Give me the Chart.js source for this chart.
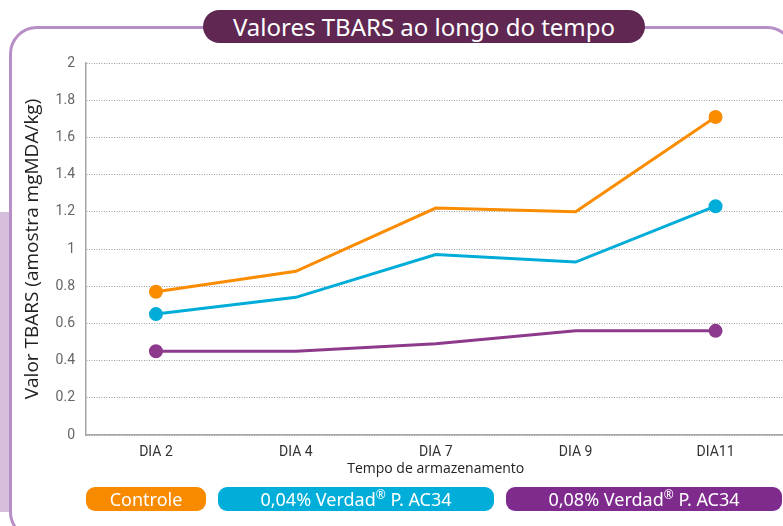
<!DOCTYPE html>
<html>
<head>
<meta charset="utf-8">
<script src="https://cdn.jsdelivr.net/npm/chart.js@4"></script>
<style>
  html, body { margin: 0; padding: 0; background: #fff; }
  body { width: 783px; height: 526px; position: relative; overflow: hidden; font-family: "Noto Sans", sans-serif; }
  .strip { position: absolute; left: 0; top: 212px; width: 9px; height: 300px; background: #d5bfdd; }
  .frame { position: absolute; left: 9px; top: 26px; width: 786px; height: 514px; border: 3px solid #b78fc6; border-radius: 28px; box-sizing: border-box; }
  .title { position: absolute; left: 203px; top: 10px; width: 442px; height: 33px; border-radius: 17px; background: #5f2752; color: #fff; font-size: 24px; line-height: 33px; text-align: center; }
  .chart { position: absolute; left: 0; top: 40px; width: 794px; height: 450px; }
  .pill { position: absolute; top: 487px; height: 24px; border-radius: 9px; color: #fff; font-size: 18px; line-height: 24px; text-align: center; }
  .pill sup { font-size: 12px; line-height: 0; }
</style>
</head>
<body>
<div class="strip"></div>
<div class="frame"></div>
<div class="title">Valores TBARS ao longo do tempo</div>
<div class="chart"><canvas id="c"></canvas></div>
<div class="pill" style="left:86px;width:120px;background:#f88a00">Controle</div>
<div class="pill" style="left:218px;width:276px;background:#00aed9">0,04% Verdad<sup>®</sup> P. AC34</div>
<div class="pill" style="left:506px;width:276px;background:#7f2b8e">0,08% Verdad<sup>®</sup> P. AC34</div>
<script>
// values
const days = ["DIA 2", "DIA 4", "DIA 7", "DIA 9", "DIA11"];
const controle = [0.77, 0.88, 1.22, 1.20, 1.71];
const verdad004 = [0.65, 0.74, 0.97, 0.93, 1.23];
const verdad008 = [0.45, 0.45, 0.49, 0.56, 0.56];
const yTicks = [0, 0.2, 0.4, 0.6, 0.8, 1, 1.2, 1.4, 1.6, 1.8, 2];

// dots only at both ends of each line
const endDots = days.map((d, i) => (i === 0 || i === days.length - 1 ? 5.5 : 0));

function series(label, data, color) {
  return {
    label: label,
    data: data,
    borderColor: color,
    backgroundColor: color,
    borderWidth: 3,
    pointRadius: endDots,
    pointHoverRadius: endDots,
    tension: 0,
  };
}

new Chart(document.getElementById("c"), {
  type: "line",
  data: {
    labels: days,
    datasets: [
      series("Controle", controle, "#fb8c00"),
      series("0,04% Verdad® P. AC34", verdad004, "#00acd8"),
      series("0,08% Verdad® P. AC34", verdad008, "#8d3a8c"),
    ],
  },
  options: {
    responsive: true,
    maintainAspectRatio: false,
    animation: false,
    layout: { padding: { top: 23, right: 0, left: 0, bottom: 0 } },
    plugins: { legend: { display: false }, tooltip: { enabled: false } },
    scales: {
      x: {
        offset: true,
        grid: { display: false, drawTicks: false },
        border: { display: true, color: "#a6a6a6", width: 1.5 },
        ticks: { padding: 9, color: "#333", font: { family: "Roboto", size: 14 } },
        title: {
          display: true,
          text: "Tempo de armazenamento",
          color: "#222",
          font: { family: "Open Sans", size: 14 },
          padding: { top: 0, bottom: 13 },
        },
        afterFit: (scale) => { scale.height = 55; },
      },
      y: {
        min: 0,
        max: 2,
        afterBuildTicks: (scale) => { scale.ticks = yTicks.map((v) => ({ value: v })); },
        grid: { color: "#9a9a9a", lineWidth: 1, drawTicks: false },
        border: { display: true, color: "#a6a6a6", width: 1.5, dash: [1, 1.5] },
        ticks: {
          padding: 11,
          color: "#666",
          font: { family: "Roboto", size: 14 },
          callback: (v) => String(v),
        },
        title: {
          display: true,
          text: "Valor TBARS (amostra mgMDA/kg)",
          color: "#222",
          font: { family: "Open Sans", size: 19 },
          padding: { top: 21, bottom: 0 },
        },
        afterFit: (scale) => { scale.width = 86; },
      },
    },
  },
});
</script>
</body>
</html>
